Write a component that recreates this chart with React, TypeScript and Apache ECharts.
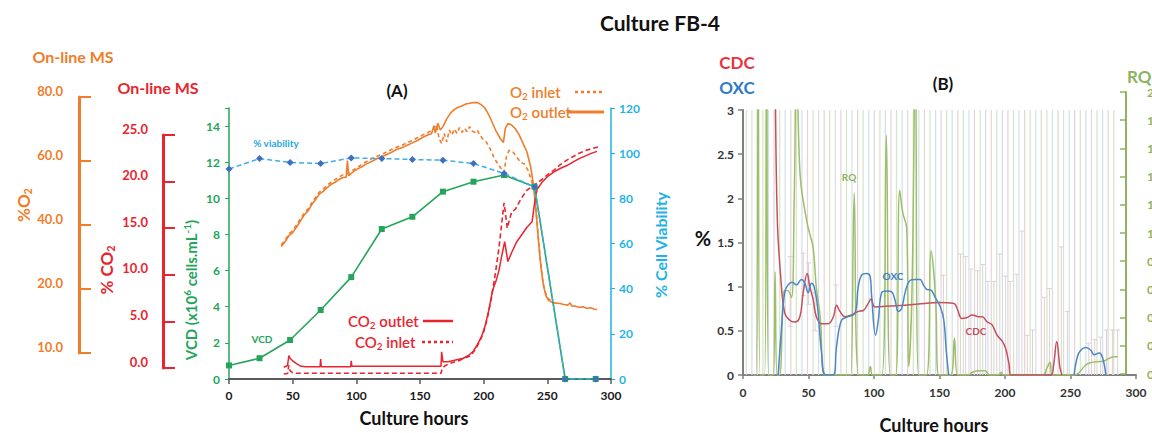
import React, { useEffect, useRef } from 'react';
import * as echarts from 'echarts';

// ---------------- DATA ----------------
const hourTicks = [0, 50, 100, 150, 200, 250, 300];
const o2AxisLabels = ['10.0', '20.0', '40.0', '60.0', '80.0'];

// Panel A
const vcd = [[0, 0.75], [24, 1.15], [48, 2.16], [72, 3.82], [96, 5.64], [120, 8.3], [144, 8.98], [168, 10.37], [192, 10.92], [216, 11.29], [240, 10.64], [264, 0], [288, 0]];
const viability = [[0, 93], [24, 97.6], [48, 95.9], [72, 95.4], [96, 97.9], [120, 97.6], [144, 97.2], [168, 96.9], [192, 95.4], [216, 91], [240, 85], [264, 0], [288, 0]];

const o2Outlet = [[41, 39.1], [44, 40.5], [47, 42.3], [50, 43.2], [53, 44.8], [56, 46.6], [59, 48.4], [62, 49.6], [65, 51.5], [68, 53.0], [71, 54.6], [74, 55.4], [77, 56.5], [80, 57.4], [83, 58.0], [86, 58.8], [89, 59.4], [92, 59.6], [93, 64.5], [94, 60.0], [97, 61.0], [100, 61.8], [104, 62.6], [108, 63.5], [112, 64.2], [116, 65.0], [120, 65.6], [124, 66.3], [128, 67.0], [132, 67.8], [136, 68.3], [140, 69.0], [144, 69.7], [148, 70.4], [152, 71.3], [156, 72.0], [159, 72.4], [161, 74.8], [162, 72.6], [164, 75.5], [166, 73.5], [168, 74.5], [171, 76.8], [174, 78.5], [177, 79.6], [180, 80.2], [183, 80.6], [186, 81.2], [189, 81.4], [192, 81.6], [195, 81.6], [198, 81.0], [201, 80.0], [204, 78.0], [207, 75.5], [210, 73.0], [213, 71.0], [215.5, 69.8], [217, 74.0], [219, 75.4], [222, 75.0], [225, 73.8], [228, 72.0], [231, 69.5], [234, 67.0], [237, 62.5], [239, 57.5], [241, 50.0], [243, 41.0], [245, 33.0], [247, 27.5], [249, 24.5], [251, 23.2], [254, 22.6], [257, 22.4], [260, 22.3], [263, 22.0], [266, 21.8], [268, 22.5], [269, 21.6], [272, 21.5], [275, 21.2], [278, 21.3], [281, 20.9], [284, 21.0], [287, 20.6], [289, 20.5]];
const o2Inlet = [[41, 39.6], [44, 41.0], [47, 42.8], [50, 43.8], [53, 45.5], [56, 47.2], [59, 48.9], [62, 50.2], [65, 52.0], [68, 53.6], [71, 55.2], [74, 56.1], [77, 57.2], [80, 58.0], [83, 58.8], [86, 59.5], [89, 60.2], [92, 60.5], [95, 61.0], [98, 61.8], [101, 62.5], [104, 63.3], [108, 64.2], [112, 65.0], [116, 65.7], [120, 66.3], [124, 67.1], [128, 67.8], [132, 68.5], [136, 69.0], [140, 69.8], [144, 70.4], [148, 71.2], [152, 72.0], [156, 72.7], [160, 73.6], [163, 75.0], [165, 71.0], [167, 69.5], [169, 72.5], [171, 70.0], [173, 73.5], [175, 72.0], [177, 73.8], [179, 72.5], [181, 74.2], [183, 72.8], [185, 74.0], [187, 73.0], [189, 74.5], [191, 73.2], [193, 72.8], [195, 73.5], [197, 72.0], [199, 71.0], [202, 70.0], [205, 68.0], [208, 65.5], [211, 63.5], [214, 62.0], [216, 61.0], [218, 66.0], [220, 67.5], [223, 67.0], [226, 65.5], [229, 64.0], [232, 63.5], [235, 61.5], [238, 58.0], [240, 55.0], [242, 46.0], [244, 37.0], [246, 30.0], [248, 26.0], [250, 24.0], [253, 23.0]];

const co2Outlet = [[43, 1.3], [46, 1.5], [47, 2.6], [48, 2.3], [50, 2.0], [53, 1.7], [56, 1.45], [60, 1.35], [71.5, 1.35], [72, 2.2], [72.5, 1.35], [95.5, 1.35], [96, 2.0], [96.5, 1.4], [120, 1.4], [150, 1.4], [166.5, 1.4], [167, 3.0], [168, 1.9], [172, 1.9], [178, 2.1], [184, 2.3], [188, 2.6], [192, 3.1], [195, 3.8], [198, 4.6], [201, 5.8], [204, 7.6], [207, 9.8], [210, 11.0], [212, 12.0], [214, 13.5], [216.5, 15.2], [219, 13.0], [222, 14.0], [226, 15.2], [230, 16.0], [234, 16.8], [238, 17.4], [240, 19.5], [242, 21.0], [246, 21.8], [250, 22.4], [255, 22.9], [260, 23.3], [265, 23.6], [270, 24.0], [275, 24.4], [280, 24.7], [285, 25.0], [289, 25.2]];
const co2Inlet = [[43, 0.55], [46, 0.6], [47, 1.5], [48, 0.9], [50, 0.7], [53, 0.63], [166.5, 0.63], [167.5, 1.2], [170, 1.5], [175, 1.8], [180, 2.0], [185, 2.3], [190, 2.6], [194, 3.4], [197, 4.2], [200, 5.2], [203, 6.8], [206, 8.9], [209, 11.5], [212, 14.5], [214, 17.0], [216, 19.5], [217, 18.5], [218.5, 16.7], [220, 17.5], [222, 18.5], [225, 18.8], [228, 19.6], [231, 20.3], [234, 20.9], [238, 21.3], [241, 21.6], [245, 22.0], [250, 22.6], [255, 23.1], [260, 23.7], [265, 24.2], [270, 24.6], [275, 25.0], [280, 25.3], [285, 25.5], [290, 25.7]];

// Panel B
const cdc = [[23.5, 4.5], [24.5, 3.4], [26.2, 1.76], [28.8, 1.11], [31.9, 0.70], [35.7, 0.62], [39.5, 0.60], [43.4, 0.66], [45.9, 0.93], [49, 1.15], [51, 1.0], [53.6, 0.85], [56, 0.66], [60, 0.58], [65, 0.58], [69, 0.66], [71.4, 0.79], [74, 0.72], [77.8, 0.66], [82.9, 0.68], [88, 0.72], [91.8, 0.73], [95.6, 0.81], [97.7, 0.86], [100.8, 0.77], [111, 0.78], [123.7, 0.79], [139, 0.81], [149, 0.82], [161, 0.81], [163.5, 0.75], [167, 0.64], [171, 0.65], [175, 0.68], [180, 0.66], [182.6, 0.66], [186.5, 0.60], [190, 0.57], [194, 0.45], [198, 0.38], [200.5, 0.30], [203, 0.13], [204.5, 0], [235, 0], [237, 0.1], [239.5, 0.38], [242, 0.08], [243.5, 0]];
const oxcEarly = [[26.8, 0], [29.3, 0.51], [31.9, 0.94], [34.4, 1.02], [37.5, 1.05], [40.8, 1.02], [44.6, 1.08], [47.2, 1.04], [49.7, 0.93], [52.3, 1.04], [54.3, 1.0], [56.9, 0.77], [60, 0.25], [63, 0], [68.9, 0], [71.4, 0.32], [75.2, 0.62], [80.3, 0.66], [85.5, 0.70], [88, 1.0], [90.5, 1.13], [94.3, 1.15], [97, 1.12], [98.2, 0.89], [101.2, 0.45], [103.3, 0.62], [105.8, 0.93], [109.7, 0.95], [113.5, 0.94], [116, 0.85], [118.6, 0.72], [121, 0.75], [123.7, 0.93], [126.8, 1.06], [131.4, 1.08], [135.2, 1.08], [137.7, 1.02], [140.3, 0.97], [143.6, 0.96], [146.7, 0.88], [150.7, 0.77], [153.3, 0.62], [155.3, 0.25], [157, 0]];
const oxcLate = [[252.7, 0], [255.3, 0.21], [257.8, 0.28], [261.7, 0.31], [265.5, 0.28], [268, 0.23], [271.9, 0.25], [274.4, 0.2], [277, 0]];
const rq = [[8, 0], [10, 0], [11.5, 2.6], [13, 0], [16.5, 0], [18, 2.6], [19.5, 0], [23, 0], [24.5, 0.73], [26, 0], [28, 0], [31.5, 0.6], [34, 0.6], [37, 0.55], [39, 1.2], [41, 2.3], [43.6, 1.42], [48.7, 1.09], [51, 1.0], [53.6, 0.9], [56, 0.62], [59, 0.41], [62.5, 0], [81, 0], [82.4, 0], [84.9, 1.29], [88.3, 0], [95, 0], [97.2, 0.06], [99, 0], [106, 0], [109.4, 1.70], [112.5, 0], [116.5, 0], [119.6, 1.31], [122, 1.15], [125, 1.04], [126.5, 0.06], [129, 0.6], [131.6, 2.3], [134, 0], [140, 0], [143.6, 0.88], [147, 0.55], [149.5, 0], [158.5, 0], [161.4, 0.26], [164, 0], [172, 0], [175, 0.02], [181, 0.03], [185, 0.03], [188, 0], [195, 0], [197, 0.02], [199, 0], [229, 0], [232, 0.05], [234.4, 0.09], [236, 0], [253, 0], [263, 0.08], [275.7, 0.1], [283.3, 0.13], [286, 0.13]];
const curtainHours = [2.5, 6.8, 11, 15.2, 19.5, 23.7, 28, 32.2, 36.5, 40.7, 45, 49.2, 53.5, 57.7, 62, 66.2, 70.5, 74.7, 79, 83.2, 87.5, 91.7, 96, 100.2, 104.5, 108.7, 113, 117.2, 121.5, 125.7, 130, 134.2, 138.5, 142.7, 147, 151.2, 155.5, 159.7, 164, 168.2, 172.5, 176.7, 181, 185.2, 189.5, 193.7, 198, 202.2, 206.5, 210.7, 215, 219.2, 223.5, 227.7, 232, 236.2, 240.5, 244.7, 249, 253.2, 257.5, 261.7, 266, 270.2, 274.5, 278.7, 283];
// [hour, low, high] of CDC error bars
const cdcErrBars = [[36, 0.55, 1.34], [46, 0.9, 1.38], [50, 0.8, 1.27], [55, 0.5, 0.93], [71, 0.55, 1.02], [153, 0, 1.13], [166, 0, 1.37], [170, 0, 1.34], [174, 0, 1.2], [179, 0, 1.18], [183, 0, 1.25], [187, 0, 1.06], [191.5, 0, 1.06], [196, 0, 1.37], [200.5, 0, 1.12], [204, 0, 1.06], [209, 0, 1.14], [213, 0, 1.63], [217, 0, 0.45], [221, 0, 0.51], [230, 0, 0.88], [234, 0, 0.98], [243, 0, 1.45], [247.6, 0, 0.72], [264, 0, 0.36], [268.5, 0, 0.4], [273, 0, 0.43], [277.5, 0, 0.51], [282, 0, 0.51], [286, 0, 0.51]];

// ---------------- STYLE ----------------
const FONT = 'Lato, "Open Sans", "DejaVu Sans", sans-serif';
const ORANGE = '#ef7d2c';
const RED = '#e8252f';
const GREEN = '#24a55a';
const CYAN = '#1fb3e5';
const CURTAIN = ['#d5e4c5', '#d1dfed', '#e3d4d7'];

function txt(text: string, x: number, y: number, size: number, color: string, o: any = {}) {
  const align = o.align || 'center';
  return {
    type: 'text', x, y, rotation: o.rotation || 0, z: 100,
    style: { text, fontSize: size, fontWeight: o.weight || 'bold', fontFamily: FONT, fill: color, align, textAlign: align, verticalAlign: 'middle', textVerticalAlign: 'middle' },
  };
}
function richTxt(parts: [string, string][], x: number, y: number, size: number, color: string, o: any = {}) {
  const align = o.align || 'center';
  const weight = o.weight || 'bold';
  const base = { fontFamily: FONT, fontWeight: weight, fill: color };
  const small = Math.round(size * 0.65);
  return {
    type: 'text', x, y, rotation: o.rotation || 0, z: 100,
    style: {
      text: parts.map(([t, k]) => `{${k}|${t}}`).join(''),
      fontSize: size, fontWeight: weight, fontFamily: FONT, fill: color,
      align, textAlign: align, verticalAlign: 'middle', textVerticalAlign: 'middle',
      rich: {
        n: { ...base, fontSize: size, lineHeight: Math.round(size * 1.2) },
        sub: { ...base, fontSize: small, lineHeight: small, verticalAlign: 'bottom' },
        sup: { ...base, fontSize: small, lineHeight: small, verticalAlign: 'top' },
      },
    },
  };
}
function seg(x1: number, y1: number, x2: number, y2: number, color: string, width: number, dash?: number[]) {
  return { type: 'line', z: 100, shape: { x1, y1, x2, y2 }, style: { stroke: color, lineWidth: width, lineDash: dash || null } };
}

function buildOption(): any {
  const noGridBounds = { containLabel: false, outerBoundsMode: 'none' };
  const hiddenX = (g: number) => ({ gridIndex: g, type: 'value', show: false, min: 0, max: 1 });
  const boldLbl = (color: string, size = 12) => ({ color, fontWeight: 'bold', fontSize: size, fontFamily: FONT });

  return {
    animation: false,
    textStyle: { fontFamily: FONT },
    grid: [
      { left: 229, top: 108, width: 382, height: 271, ...noGridBounds },
      { left: 743, top: 110, width: 393, height: 265, ...noGridBounds },
      { left: 79, top: 97, width: 10, height: 256, ...noGridBounds },
      { left: 163, top: 135, width: 10, height: 233, ...noGridBounds },
      { left: 1126, top: 92, width: 10, height: 282, ...noGridBounds },
    ],
    xAxis: [
      {
        gridIndex: 0, type: 'value', min: 0, max: 300, interval: 50,
        axisLine: { lineStyle: { color: '#595959', width: 2 } },
        axisTick: { show: true, length: 5, lineStyle: { color: '#595959', width: 1.5 } },
        axisLabel: { ...boldLbl('#1a1a1a', 12), margin: 10 },
        splitLine: { show: false },
      },
      {
        gridIndex: 1, type: 'value', min: 0, max: 300, interval: 50,
        axisLine: { lineStyle: { color: '#808080', width: 2 } },
        axisTick: { show: true, length: 4, lineStyle: { color: '#808080', width: 1.5 } },
        axisLabel: { ...boldLbl('#333333', 12), margin: 11 },
        splitLine: { show: false },
      },
      hiddenX(2), hiddenX(3), hiddenX(4),
    ],
    yAxis: [
      {
        gridIndex: 0, type: 'value', min: 0, max: 15, interval: 2, position: 'left',
        axisLine: { show: true, lineStyle: { color: GREEN, width: 1.5 } },
        axisTick: { show: true, length: 4, lineStyle: { color: GREEN } },
        axisLabel: { ...boldLbl(GREEN, 12), margin: 9, hideOverlap: false, formatter: (v: number) => (v > 14 ? '' : String(v)) },
        splitLine: { show: false },
      },
      {
        gridIndex: 0, type: 'value', min: 0, max: 120, interval: 20, position: 'right',
        axisLine: { show: true, lineStyle: { color: CYAN, width: 1.5 } },
        axisTick: { show: true, length: 4, lineStyle: { color: CYAN } },
        axisLabel: { ...boldLbl(CYAN, 12), margin: 8 },
        splitLine: { show: false },
      },
      { gridIndex: 0, type: 'value', min: 0, max: 80, show: false, splitLine: { show: false } },
      { gridIndex: 0, type: 'value', min: 0, max: 30, show: false, splitLine: { show: false } },
      {
        gridIndex: 1, type: 'value', min: 0, max: 3, interval: 0.5, position: 'left',
        axisLine: { show: true, lineStyle: { color: '#808080', width: 2 } },
        axisTick: { show: true, length: 5, lineStyle: { color: '#808080', width: 1.5 } },
        axisLabel: { ...boldLbl('#333333', 12), margin: 9 },
        splitLine: { show: false },
      },
      { gridIndex: 1, type: 'value', min: 0, max: 1.88, show: false, splitLine: { show: false } },
      {
        gridIndex: 2, type: 'category', data: o2AxisLabels, boundaryGap: false, position: 'left',
        axisLine: { show: true, lineStyle: { color: ORANGE, width: 3 } },
        axisTick: { show: true, inside: true, length: 12, interval: 0, lineStyle: { color: ORANGE, width: 2 } },
        axisLabel: { ...boldLbl(ORANGE, 13), margin: 16, interval: 0, verticalAlign: 'bottom' },
        splitLine: { show: false },
      },
      {
        gridIndex: 3, type: 'value', min: 0, max: 25, interval: 5, position: 'left',
        axisLine: { show: true, lineStyle: { color: RED, width: 3 } },
        axisTick: { show: true, inside: true, length: 12, lineStyle: { color: RED, width: 2 } },
        axisLabel: { ...boldLbl(RED, 13), margin: 15, verticalAlign: 'bottom', formatter: (v: number) => v.toFixed(1) },
        splitLine: { show: false },
      },
      {
        gridIndex: 4, type: 'value', min: 0, max: 2, interval: 0.2, position: 'right',
        axisLine: { show: true, lineStyle: { color: '#8fb35e', width: 2 } },
        axisTick: { show: true, inside: true, length: 6, lineStyle: { color: '#8fb35e', width: 1.5 } },
        axisLabel: { ...boldLbl('#8fb35e', 12), margin: 11, formatter: (v: number) => String(Math.round(v * 10) / 10) },
        splitLine: { show: false },
      },
    ],
    series: [
      // ---- Panel A ----
      {
        type: 'line', name: 'O2 outlet', xAxisIndex: 0, yAxisIndex: 2, data: o2Outlet, clip: false,
        showSymbol: false, lineStyle: { color: ORANGE, width: 1.6 }, z: 3,
      },
      {
        type: 'line', name: 'O2 inlet', xAxisIndex: 0, yAxisIndex: 2, data: o2Inlet, clip: false,
        showSymbol: false, lineStyle: { color: ORANGE, width: 1.6, type: [4, 3] }, z: 3,
      },
      {
        type: 'line', name: 'CO2 outlet', xAxisIndex: 0, yAxisIndex: 3, data: co2Outlet, clip: false,
        showSymbol: false, lineStyle: { color: RED, width: 1.5 }, z: 4,
      },
      {
        type: 'line', name: 'CO2 inlet', xAxisIndex: 0, yAxisIndex: 3, data: co2Inlet, clip: false,
        showSymbol: false, lineStyle: { color: RED, width: 1.6, type: [5, 3] }, z: 4,
      },
      {
        type: 'line', name: 'VCD', xAxisIndex: 0, yAxisIndex: 0, data: vcd,
        symbol: 'rect', symbolSize: 6, itemStyle: { color: GREEN },
        lineStyle: { color: GREEN, width: 1.6 }, z: 5,
      },
      {
        type: 'line', name: 'viability', xAxisIndex: 0, yAxisIndex: 1, data: viability,
        symbol: 'diamond', symbolSize: 7, itemStyle: { color: '#3f6fc0' },
        lineStyle: { color: '#3eaee8', width: 1.5, type: [5, 3] }, z: 6,
      },
      // ---- Panel B ----
      {
        type: 'custom', name: 'curtain', xAxisIndex: 1, yAxisIndex: 4, data: curtainHours.map((h) => [h]), z: 1, silent: true,
        renderItem: (params: any, api: any) => {
          const x = api.value(0);
          const p0 = api.coord([x, 0]);
          const p1 = api.coord([x, 3]);
          return { type: 'line', shape: { x1: p0[0], y1: p0[1], x2: p1[0], y2: p1[1] }, style: { stroke: CURTAIN[params.dataIndex % 3], lineWidth: 1.2 } };
        },
      },
      {
        type: 'custom', name: 'cdcErr', xAxisIndex: 1, yAxisIndex: 4, data: cdcErrBars, z: 2, silent: true,
        renderItem: (params: any, api: any) => {
          const x = api.value(0);
          const lo = api.coord([x, api.value(1)]);
          const hi = api.coord([x, api.value(2)]);
          const c = '#e0d0d4';
          const children: any[] = [
            { type: 'line', shape: { x1: lo[0], y1: lo[1], x2: hi[0], y2: hi[1] }, style: { stroke: c, lineWidth: 1 } },
            { type: 'line', shape: { x1: hi[0] - 2.5, y1: hi[1], x2: hi[0] + 2.5, y2: hi[1] }, style: { stroke: c, lineWidth: 1 } },
          ];
          if (api.value(1) > 0) children.push({ type: 'line', shape: { x1: lo[0] - 2.5, y1: lo[1], x2: lo[0] + 2.5, y2: lo[1] }, style: { stroke: c, lineWidth: 1 } });
          return { type: 'group', children };
        },
      },
      {
        type: 'line', name: 'RQ', xAxisIndex: 1, yAxisIndex: 5, data: rq, smooth: 0.4,
        showSymbol: false, lineStyle: { color: '#9dbf6a', width: 1.5 }, z: 3,
      },
      {
        type: 'line', name: 'CDC', xAxisIndex: 1, yAxisIndex: 4, data: cdc, smooth: 0.4,
        showSymbol: false, lineStyle: { color: '#c4505c', width: 1.5 }, z: 5,
      },
      {
        type: 'line', name: 'OXC', xAxisIndex: 1, yAxisIndex: 4, data: [...oxcEarly, [200, null], ...oxcLate], smooth: 0.4,
        showSymbol: false, connectNulls: false, lineStyle: { color: '#4a86c8', width: 1.5 }, z: 5,
      },
    ],
    graphic: [
      txt('Culture FB-4', 660, 22, 21, '#111111'),
      txt('(A)', 397, 90, 17, '#111111'),
      txt('(B)', 943, 83, 17, '#111111'),
      txt('On-line MS', 73, 56, 16, ORANGE),
      txt('On-line MS', 158, 87, 16, RED),
      richTxt([['%O', 'n'], ['2', 'sub']], 23, 205, 17, ORANGE, { rotation: Math.PI / 2 }),
      richTxt([['% CO', 'n'], ['2', 'sub']], 106, 270, 17, RED, { rotation: Math.PI / 2 }),
      richTxt([['VCD (x10', 'n'], ['6', 'sup'], [' cells.mL', 'n'], ['-1', 'sup'], [')', 'n']], 191, 290, 15, GREEN, { rotation: Math.PI / 2 }),
      txt('% Cell Viability', 660, 245, 16, CYAN, { rotation: Math.PI / 2 }),
      txt('% viability', 276, 143, 10, '#2aa8df'),
      txt('VCD', 262, 339, 10, GREEN),
      txt('Culture hours', 414, 418, 18, '#111111'),
      txt('Culture hours', 934, 425, 18, '#111111'),
      richTxt([['O', 'n'], ['2', 'sub'], [' inlet', 'n']], 510, 92, 15, ORANGE, { align: 'left', weight: '600' }),
      seg(575, 92, 604, 92, ORANGE, 2.5, [3, 3]),
      richTxt([['O', 'n'], ['2', 'sub'], [' outlet', 'n']], 510, 112, 15, ORANGE, { align: 'left', weight: '600' }),
      seg(568, 112, 604, 112, ORANGE, 3),
      richTxt([['CO', 'n'], ['2', 'sub'], [' outlet', 'n']], 348, 321, 15, RED, { align: 'left', weight: '600' }),
      seg(423, 321, 453, 321, RED, 2.5),
      richTxt([['CO', 'n'], ['2', 'sub'], [' inlet', 'n']], 355, 342, 15, RED, { align: 'left', weight: '600' }),
      seg(422, 342, 453, 342, RED, 2.5, [3, 3]),
      txt('CDC', 737, 62, 17, '#e8333c'),
      txt('OXC', 737, 87, 17, '#2f7bc6'),
      txt('%', 703, 238, 20, '#111111'),
      txt('RQ', 1127, 76, 17, '#8db35e', { align: 'left' }),
      txt('RQ', 849, 177, 10, '#8db35e'),
      txt('OXC', 893, 276, 10, '#3a7cc6'),
      txt('CDC', 976, 331, 10, '#c4505c'),
    ],
  };
}

export default function App() {
  const ref = useRef<HTMLDivElement>(null);
  useEffect(() => {
    document.body.style.margin = '0';
    const chart = echarts.init(ref.current as HTMLDivElement, null, { renderer: 'svg' });
    chart.setOption(buildOption());
    return () => chart.dispose();
  }, []);
  return <div ref={ref} style={{ width: 1152, height: 433, background: '#ffffff' }} />;
}
